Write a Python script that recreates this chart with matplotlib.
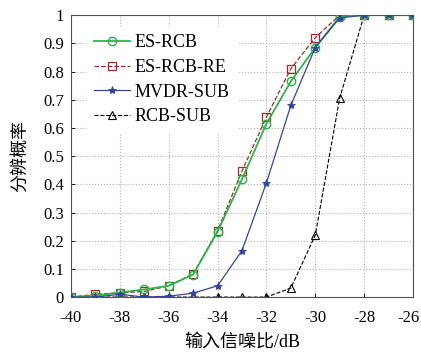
import numpy as np
import matplotlib
matplotlib.use("Agg")
import matplotlib.pyplot as plt
from matplotlib.transforms import ScaledTranslation

# SNR (dB) grid and resolution probability for each method
snr = [-40, -39, -38, -37, -36, -35, -34, -33, -32, -31, -30, -29, -28, -27, -26]
es_rcb = [0, 0.005, 0.016, 0.027, 0.04, 0.08, 0.232, 0.418, 0.615, 0.765, 0.885, 0.995, 1, 1, 1]
es_rcb_re = [0, 0.01, 0.015, 0.02, 0.04, 0.082, 0.235, 0.447, 0.638, 0.81, 0.92, 1, 1, 1, 1]
mvdr_sub = [0, 0, 0.01, 0, 0.003, 0.014, 0.04, 0.165, 0.405, 0.68, 0.885, 0.99, 1, 1, 1]
rcb_sub = [0, 0, 0, 0, 0, 0, 0, 0, 0, 0.032, 0.22, 0.706, 1, 1, 1]

plt.rcParams['font.family'] = ['Liberation Serif', 'Noto Sans CJK SC']
plt.rcParams['axes.unicode_minus'] = False

fig = plt.figure(figsize=(4.21, 3.52), dpi=100)
ax = fig.add_axes([0.1686, 0.156, 0.8124, 0.801])

ax.plot(snr, es_rcb, '-', color='#2db34a', lw=1.3, marker='o', ms=6,
        mfc='none', mec='#2db34a', mew=1.0, label='ES-RCB', zorder=4)
ax.plot(snr, es_rcb_re, '--', color='#9a2b2b', lw=0.9, marker='s', ms=6,
        mfc='none', mec='#9a2b2b', mew=0.9, label='ES-RCB-RE', zorder=3)
ax.plot(snr, mvdr_sub, '-', color='#34449a', lw=0.9, marker='*', ms=6,
        mfc='#34449a', mec='#34449a', mew=0.6, label='MVDR-SUB', zorder=5)
ax.plot(snr, rcb_sub, '--', color='black', lw=0.8, marker='^', ms=6,
        mfc='none', mec='black', mew=0.8, label='RCB-SUB', zorder=2)

ax.set_xlim(-40, -26)
ax.set_ylim(0, 1)
ax.set_xticks(np.arange(-40, -25, 2))
ax.set_yticks(np.arange(0, 1.01, 0.1))
ax.set_yticklabels(['0', '0.1', '0.2', '0.3', '0.4', '0.5', '0.6', '0.7', '0.8', '0.9', '1'])
ax.tick_params(labelsize=12, direction='in', length=3, width=0.6)
ax.tick_params(axis='x', pad=9)
ax.tick_params(axis='y', pad=5)
ax.grid(True, linestyle=':', color='#b0b0b0', lw=0.8)
for s in ax.spines.values():
    s.set_linewidth(0.8)
    s.set_color('#505050')

# nudge the last x label inward so it stays on the canvas
last = ax.get_xticklabels()[-1]
last.set_transform(last.get_transform() + ScaledTranslation(-0.05, 0, fig.dpi_scale_trans))

ax.set_xlabel('输入信噪比/dB', fontsize=13, labelpad=6)
ax.set_ylabel('分辨概率', fontsize=13, labelpad=10)

leg = ax.legend(loc='upper left', bbox_to_anchor=(0.035, 0.97), fontsize=13,
                frameon=True, handlelength=2.0, handletextpad=0.25,
                labelspacing=0.42, borderaxespad=0.2)
leg.get_frame().set_edgecolor('white')
leg.get_frame().set_facecolor('white')
leg.get_frame().set_alpha(1)

fig.savefig('out.png', dpi=100)
